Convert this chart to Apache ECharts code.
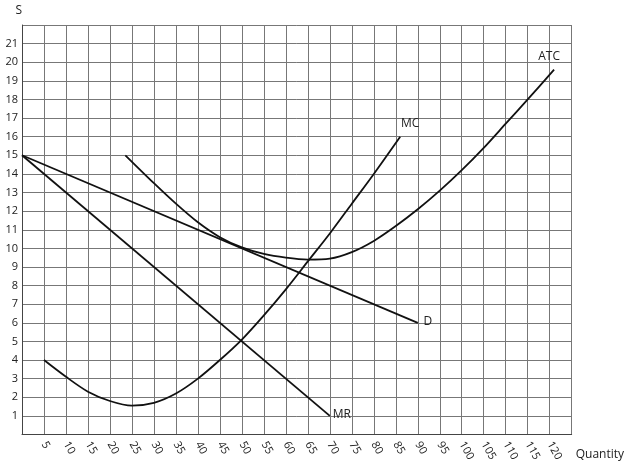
<!DOCTYPE html><html><head><meta charset="utf-8"><script src="https://cdn.jsdelivr.net/npm/echarts@6/dist/echarts.min.js"></script></head><body style="margin:0"><div id="c" style="width:627px;height:469px"></div><script>
const dData=[[0,15],[90,6]];
const mrData=[[0,15],[70,1]];
const mcData=[[5,4],[10,3.1],[15,2.3],[20,1.8],[25,1.55],[30,1.7],[35,2.2],[40,3],[45,4],[50,5.1],[55,6.4],[60,7.8],[65,9.3],[70,10.8],[75,12.4],[80,14],[86,16]];
const atcData=[[23.5,15],[30,13.5],[35,12.4],[40,11.4],[45,10.6],[50,10.05],[55,9.7],[60,9.5],[65,9.4],[70,9.45],[75,9.8],[80,10.4],[85,11.2],[90,12.1],[95,13.1],[100,14.2],[105,15.4],[110,16.7],[115,18],[121,19.6]];
const ch=echarts.init(document.getElementById('c'));
const txt={color:'#222',fontFamily:'Open Sans',fontSize:12};
function s(data,name,off){const d=data.map(p=>p.slice());const last=d.length-1;
return {type:'line',smooth:name==='MC'||name==='ATC'?0.3:false,symbol:'none',lineStyle:{color:'#111',width:1.8},data:d.map((p,i)=>i===last?{value:p,symbol:'circle',symbolSize:0.1,label:{show:true,formatter:name,offset:off,...txt}}:p)};}
ch.setOption({animation:false,
grid:{left:22,right:53,top:25,bottom:34.5},
xAxis:{type:'value',min:0,max:125,interval:5,name:'Quantity',nameLocation:'end',nameGap:4,nameTextStyle:{...txt,verticalAlign:'top',padding:[14,0,0,0]},
axisLine:{lineStyle:{color:'#444'}},axisTick:{show:false},splitLine:{lineStyle:{color:'#777'}},
axisLabel:{rotate:-60,...txt,fontSize:11,formatter:v=>(v>0&&v<125)?v:''}},
yAxis:{type:'value',min:0,max:22,interval:1,name:'S',nameGap:8,nameTextStyle:{...txt,align:'right'},
axisLine:{show:true,lineStyle:{color:'#444'}},axisTick:{show:false},splitLine:{lineStyle:{color:'#777'}},
axisLabel:{...txt,fontSize:11,margin:4,formatter:v=>(v>0&&v<22)?v:''}},
series:[s(dData,'D',[10,10]),s(mrData,'MR',[12,10]),s(mcData,'MC',[10,-2]),s(atcData,'ATC',[-5,-2])]});
</script></body></html>
